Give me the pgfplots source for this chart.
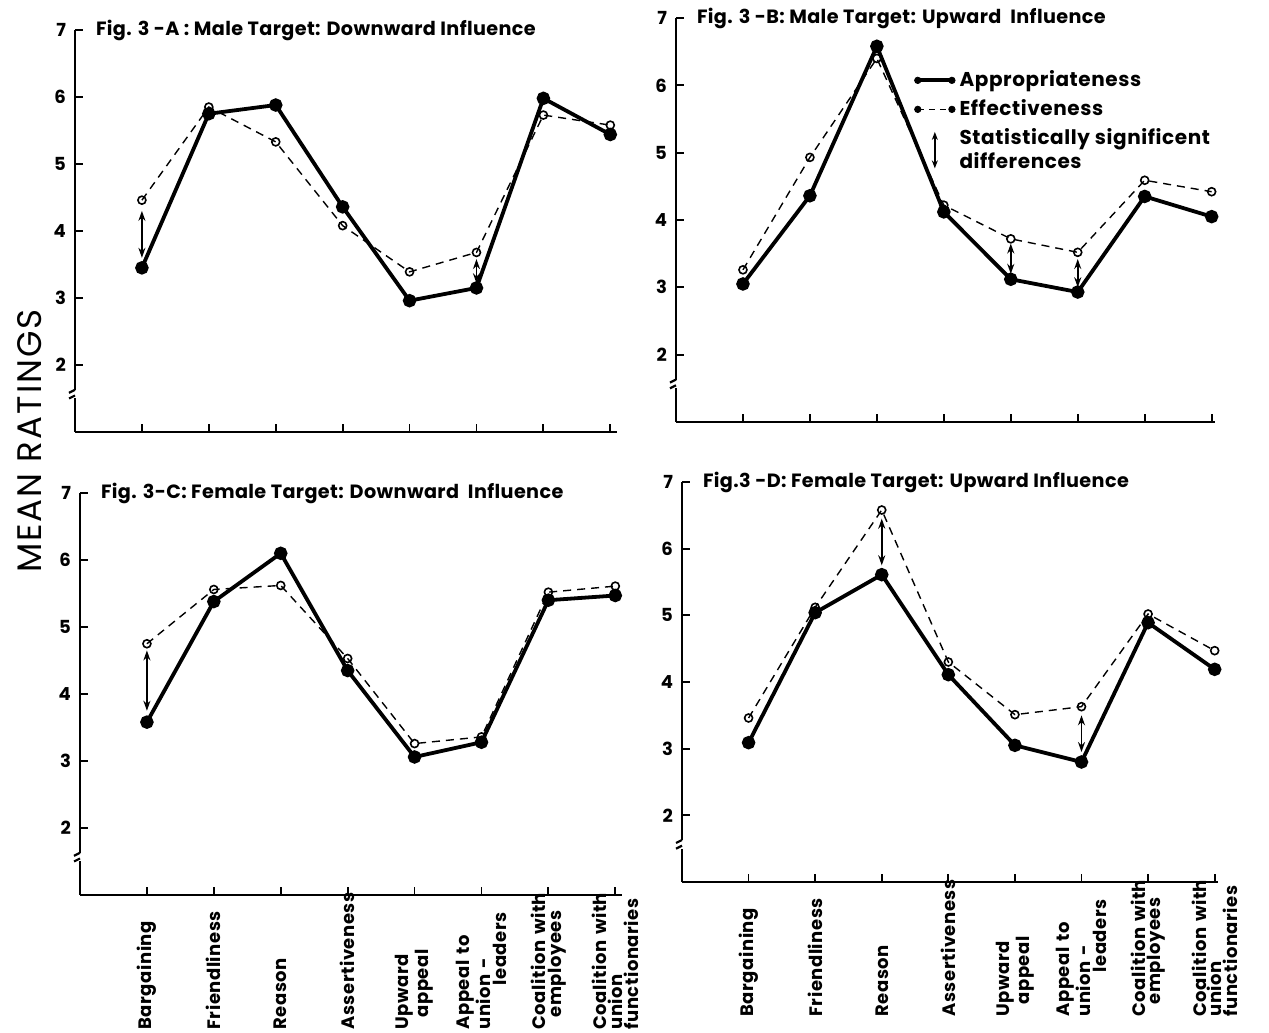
\documentclass[border=0pt]{standalone}
\usepackage{fontspec}
\setmainfont{Poppins}
\usepackage{pgfplots}
\pgfplotsset{compat=1.18}
\usetikzlibrary{arrows.meta}
\pgfplotsset{
  panel/.style={
    scale only axis, xmin=-1, xmax=7.1, ymin=1, ymax=7,
    axis x line=bottom, axis y line=left,
    axis line style={-, line width=1.1pt},
    xtick={0,...,7}, ytick={2,...,7},
    tick align=inside, major tick length=4pt,
    tick style={black, line width=0.9pt},
    yticklabel style={font=\bfseries\fontsize{9}{9}\selectfont, xshift=-1pt},
    /pgf/number format/assume math mode=true,
    clip=false,
  },
  toppanel/.style={panel, xticklabels={}},
  botpanel/.style={panel,
    xticklabels={Bargaining, Friendliness, Reason, Assertiveness, {Upward\\\hspace*{6pt}appeal}, {Appeal~to\\union -\\\hspace*{22pt}leaders}, {Coalition~with\\\hspace*{6pt}employees}, {Coalition~with\\union\\functionaries}},
    xticklabel style={rotate=90, anchor=east, align=left, text width=66pt, inner sep=1pt,
      font=\bfseries\fontsize{9}{7.8}\selectfont\addfontfeature{LetterSpace=3}},
  },
  appr/.style={black, line width=1.9pt, mark=*, mark size=2.4pt, mark options={solid}},
  effe/.style={black, line width=0.7pt, dash pattern=on 4pt off 3pt, mark=o, mark size=2pt,
    mark options={solid, fill=white, line width=0.8pt}},
  sig/.style={black, line width=0.9pt, {Stealth[length=5pt,width=3.5pt]}-{Stealth[length=5pt,width=3.5pt]}, mark=none},
}
\tikzset{ttl/.style={anchor=west, font=\bfseries\fontsize{9.6}{10}\selectfont\addfontfeature{LetterSpace=2}, xshift=7pt}}
\newcommand{\ybreak}{%
  \fill[white] ([xshift=-4pt]axis cs:-1,1.5) rectangle ([xshift=4pt]axis cs:-1,1.63);
  \draw[line width=1.1pt] ([xshift=-3pt,yshift=-1.5pt]axis cs:-1,1.63) -- ([xshift=0pt]axis cs:-1,1.63);
  \draw[line width=1.1pt] ([xshift=-3pt]axis cs:-1,1.5) -- ([xshift=0pt,yshift=1.5pt]axis cs:-1,1.5);
}
\begin{document}
\begin{tikzpicture}
\useasboundingbox (0,0) rectangle (634.5pt,516.5pt);
\node[rotate=90, font=\fontsize{17}{17}\selectfont\addfontfeature{LetterSpace=6}] at (15pt,296pt) {MEAN RATINGS};
% Panel A
\begin{axis}[toppanel, at={(37.5pt,300.5pt)}, anchor=south west, width=271pt, height=201pt]
\addplot[effe] coordinates {(0,4.46)(1,5.85)(2,5.33)(3,4.08)(4,3.39)(5,3.68)(6,5.73)(7,5.58)};
\addplot[appr] coordinates {(0,3.45)(1,5.75)(2,5.88)(3,4.36)(4,2.96)(5,3.15)(6,5.98)(7,5.44)};
\addplot[sig] coordinates {(0,4.3)(0,3.6)};
\addplot[sig] coordinates {(5,3.58)(5,3.22)};
\ybreak
\node[ttl] at (axis cs:-1,7) {Fig. 3 -A : Male Target: Downward Influence};
\end{axis}
% Panel B
\begin{axis}[toppanel, at={(338pt,305.5pt)}, anchor=south west, width=269.5pt, height=202pt, xmax=7.05,
  legend style={at={(rel axis cs:0.43,0.89)}, anchor=north west, draw=none, fill=none,
    font=\bfseries\fontsize{10}{9.6}\selectfont\addfontfeature{LetterSpace=3}, row sep=1pt, cells={anchor=west, align=left}},
  legend cell align=left]
\addlegendimage{legend image code/.code={\draw[line width=1.9pt] (0,0)--(0.6cm,0); \fill (0,0) circle (1.6pt); \fill (0.6cm,0) circle (1.6pt);}}
\addlegendentry{Appropriateness}
\addlegendimage{legend image code/.code={\draw[line width=0.7pt, dash pattern=on 3pt off 2.5pt] (0,0)--(0.6cm,0); \fill (0,0) circle (1.6pt); \fill (0.6cm,0) circle (1.6pt);}}
\addlegendentry{Effectiveness}
\addlegendimage{legend image code/.code={\draw[line width=0.9pt, {Stealth[length=4pt,width=3pt]}-{Stealth[length=4pt,width=3pt]}] (0.3cm,-0.32cm)--(0.3cm,0.32cm);}}
\addlegendentry{Statistically significent\\ differences}
\addplot[effe, forget plot] coordinates {(0,3.26)(1,4.93)(2,6.40)(3,4.22)(4,3.72)(5,3.52)(6,4.59)(7,4.42)};
\addplot[appr, forget plot] coordinates {(0,3.05)(1,4.36)(2,6.58)(3,4.12)(4,3.12)(5,2.93)(6,4.35)(7,4.05)};
\addplot[sig, forget plot] coordinates {(4,3.65)(4,3.2)};
\addplot[sig, forget plot] coordinates {(5,3.42)(5,3.0)};
\ybreak
\node[ttl] at (axis cs:-1,7) {Fig. 3 -B: Male Target: Upward\ \ Influence};
\end{axis}
% Panel C
\begin{axis}[botpanel, at={(40pt,69pt)}, anchor=south west, width=271pt, height=201pt]
\addplot[effe] coordinates {(0,4.75)(1,5.56)(2,5.62)(3,4.53)(4,3.26)(5,3.36)(6,5.52)(7,5.61)};
\addplot[appr] coordinates {(0,3.58)(1,5.38)(2,6.1)(3,4.35)(4,3.06)(5,3.28)(6,5.4)(7,5.47)};
\addplot[sig] coordinates {(0,4.65)(0,3.75)};
\ybreak
\node[ttl] at (axis cs:-1,7) {Fig. 3-C: Female Target: Downward\ \ Influence};
\end{axis}
% Panel D
\begin{axis}[botpanel, at={(341pt,75.5pt)}, anchor=south west, width=268pt, height=200pt, xmax=7.05]
\addplot[effe] coordinates {(0,3.46)(1,5.12)(2,6.58)(3,4.3)(4,3.51)(5,3.63)(6,5.02)(7,4.47)};
\addplot[appr] coordinates {(0,3.09)(1,5.04)(2,5.61)(3,4.11)(4,3.05)(5,2.8)(6,4.89)(7,4.19)};
\addplot[sig] coordinates {(2,6.45)(2,5.75)};
\addplot[sig] coordinates {(5,3.5)(5,2.95)};
\ybreak
\node[ttl] at (axis cs:-1,7) {Fig.3 -D: Female Target: Upward Influence};
\end{axis}
\end{tikzpicture}
\end{document}
